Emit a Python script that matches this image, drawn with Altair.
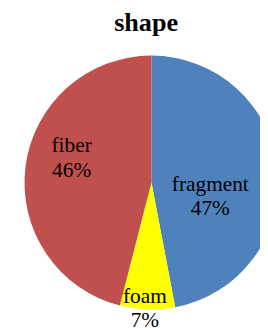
import altair as alt
import pandas as pd

TITLE = "shape"
shapes = ["fragment", "foam", "fiber"]
percents = [47, 7, 46]
colors = ["#4F81BD", "#FFFF00", "#C0504D"]

df = pd.DataFrame({"shape": shapes, "pct": percents, "idx": list(range(len(shapes)))})

CX, CY, R = 148, 135, 131
FONT = "Liberation Serif"

theta_scale = alt.Scale(domain=[0, 100], range=[0, 6.283185307179586])

base = (
    alt.Chart(df)
    .transform_stack(stack="pct", as_=["start", "end"], groupby=[], sort=[alt.SortField("idx")])
    .transform_calculate(mid="(datum.start + datum.end) / 2",
                         label="datum.shape + '\\n' + datum.pct + '%'")
)

arcs = base.mark_arc(radius=R, stroke=None).encode(
    theta=alt.Theta("start:Q", scale=theta_scale),
    theta2="end:Q",
    color=alt.Color("shape:N", scale=alt.Scale(domain=shapes, range=colors), legend=None),
    x=alt.value(CX),
    y=alt.value(CY),
)

def label_layer(name, r, dx, dy):
    return base.transform_filter(alt.datum.shape == name).mark_text(
        radius=r, dx=dx, dy=dy, font=FONT, fontSize=22, lineBreak="\n", lineHeight=25,
        align="center", baseline="middle", color="black",
    ).encode(
        theta=alt.Theta("mid:Q", scale=theta_scale),
        text="label:N",
        x=alt.value(CX),
        y=alt.value(CY),
    )

title = alt.Chart(pd.DataFrame({"title": [TITLE]})).mark_text(
    font=FONT, fontSize=27, fontWeight="bold", color="black", align="center", baseline="alphabetic"
).encode(text="title:N", x=alt.value(142.5), y=alt.value(-21))

chart = alt.layer(
    arcs,
    label_layer("fragment", 58, 3, 7),
    label_layer("fiber", 81, -2, -28),
    label_layer("foam", 120, -3, -3),
    title,
).properties(
    width=260,
    height=283,
    autosize=alt.AutoSizeParams(type="none"),
    padding={"top": 40, "left": 0, "right": 0, "bottom": 0},
).configure_view(stroke=None)

chart.save("out.html", embed_options={"renderer": "svg", "actions": False})
